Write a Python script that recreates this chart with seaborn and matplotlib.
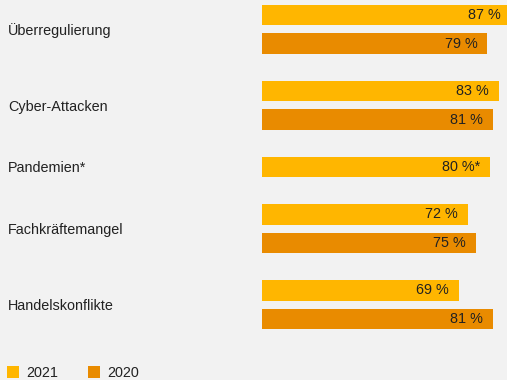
import matplotlib
matplotlib.use("Agg")
import matplotlib.pyplot as plt
import matplotlib.transforms as mtransforms
import numpy as np
import pandas as pd
import seaborn as sns

# ---- data ----
categories = ["Überregulierung", "Cyber-Attacken", "Pandemien*", "Fachkräftemangel", "Handelskonflikte"]
years = ["2021", "2020"]
values_2021 = [87, 83, 80, 72, 69]
values_2020 = [79, 81, None, 75, 81]
label_suffix_2021 = ["", "", "*", "", ""]
label_suffix_2020 = ["", "", "", "", ""]

colors = {"2021": "#FFB600", "2020": "#E98B00"}
bg = "#F2F2F2"
text_color = "#222222"
fs = 10.4

# ---- layout of rows (bar slots): step within a group and between groups ----
step_in, step_between = 3, 5
rows = []
group_centers = []
pos = 0.0
for i, cat in enumerate(categories):
    vals = {"2021": (values_2021[i], label_suffix_2021[i]),
            "2020": (values_2020[i], label_suffix_2020[i])}
    ps = []
    for j, yr in enumerate(years):
        v, suf = vals[yr]
        if v is None:
            continue
        if ps:
            pos += step_in
        rows.append({"category": cat, "year": yr, "value": v, "pos": pos, "suffix": suf})
        ps.append(pos)
    group_centers.append(np.mean(ps))
    pos += step_between
df = pd.DataFrame(rows)

# ---- figure ----
sns.set_theme(style="white")
plt.rcParams["font.family"] = ["Liberation Sans", "DejaVu Sans"]

W, H, DPI = 507, 380, 100
fig = plt.figure(figsize=(W / DPI, H / DPI), dpi=DPI, facecolor=bg)
ax_left_px = 262.3
ax = fig.add_axes([ax_left_px / W, 40 / H, 1 - ax_left_px / W, 340 / H])
ax.set_facecolor(bg)

sns.barplot(data=df, x="value", y="pos", hue="year", hue_order=years,
            palette=colors, saturation=1, orient="h", native_scale=True, dodge=False,
            width=0.72, linewidth=0, ax=ax)

px_per_unit_x = 2.85
ax.set_xlim(0, (W - ax_left_px) / px_per_unit_x)
px_per_unit_y = 9.5
top_pos = -15 / px_per_unit_y
ax.set_ylim(top_pos + 340 / px_per_unit_y, top_pos)

for s in ax.spines.values():
    s.set_visible(False)
ax.set_xticks([])
ax.set_xlabel("")
ax.set_ylabel("")

ax.set_yticks(group_centers)
ax.set_yticklabels(categories)
ax.tick_params(axis="y", length=0, pad=(ax_left_px - 8) * 72 / DPI,
               labelsize=fs, labelcolor=text_color)
for t in ax.get_yticklabels():
    t.set_ha("left")

# value labels
trans = mtransforms.offset_copy(ax.transData, fig=fig, x=-10, y=0, units="dots")
for _, r in df.iterrows():
    ax.text(r["value"], r["pos"], f"{r['value']} %{r['suffix']}", transform=trans,
            ha="right", va="center", fontsize=fs, color=text_color, clip_on=False)

# legend
sns.move_legend(ax, loc="lower left", bbox_to_anchor=(-6 / W, -13 / H),
                bbox_transform=fig.transFigure, ncol=2, frameon=False, title=None,
                fontsize=fs, handlelength=0.8, handleheight=0.8,
                handletextpad=0.5, columnspacing=2.1, labelcolor=text_color)

fig.savefig("out.png", dpi=DPI, facecolor=bg)
